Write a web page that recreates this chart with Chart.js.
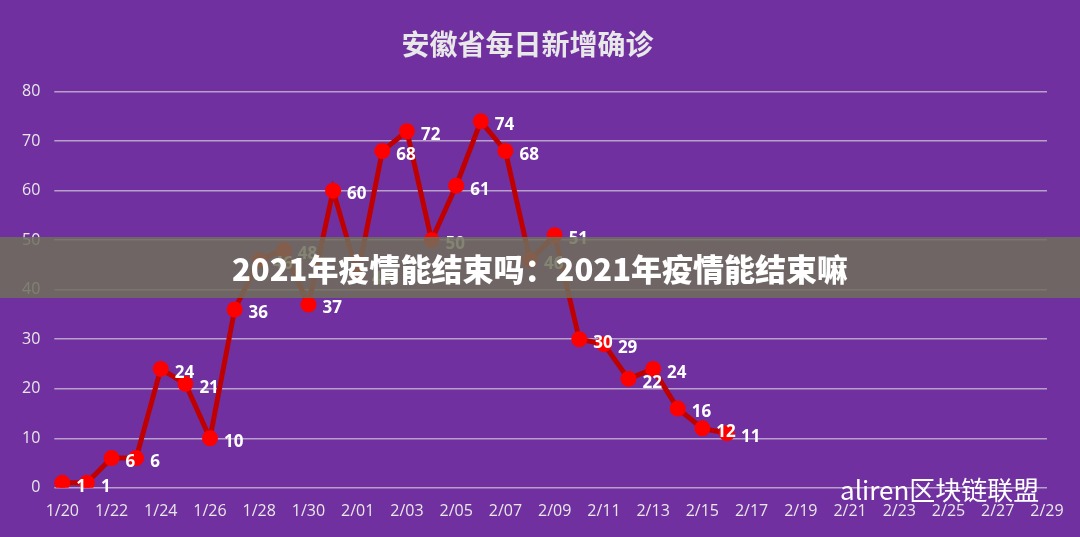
<!DOCTYPE html>
<html><head><meta charset="utf-8">
<script src="https://cdn.jsdelivr.net/npm/chart.js@4"></script>
<style>
html,body{margin:0;padding:0;background:#7030a0;}
#wrap{position:relative;width:1080px;height:537px;}
#banner{position:absolute;left:0;top:237px;width:1080px;height:61px;background:rgba(110,110,90,0.85);color:#fff;font:900 31px "Noto Sans CJK SC";line-height:61px;text-align:center;}
#wm{position:absolute;left:840px;top:470px;color:#fff;font:26px "Noto Sans CJK SC";}
</style></head><body>
<div id="wrap"><canvas id="c" width="1080" height="537"></canvas>
<div id="banner">2021年疫情能结束吗：2021年疫情能结束嘛</div>
<div id="wm">aliren区块链联盟</div></div>
<script>
const categories=['1/20','1/21','1/22','1/23','1/24','1/25','1/26','1/27','1/28','1/29','1/30','1/31',
'2/01','2/02','2/03','2/04','2/05','2/06','2/07','2/08','2/09','2/10','2/11','2/12','2/13','2/14','2/15',
'2/16','2/17','2/18','2/19','2/20','2/21','2/22','2/23','2/24','2/25','2/26','2/27','2/28','2/29'];
const values=[1,1,6,6,24,21,10,36,46,48,37,60,43,68,72,50,61,74,68,46,51,30,29,22,24,16,12,11];
const tickValues=[0,10,20,30,40,50,60,70,80];
const labelPlugin={id:'lbl',afterDatasetsDraw(ch){const ctx=ch.ctx;const meta=ch.getDatasetMeta(0);ctx.save();ctx.fillStyle='#fff';ctx.font='bold 17px "Open Sans"';ctx.textBaseline='middle';meta.data.forEach(function(p,i){ctx.fillText(String(values[i]),p.x+14,p.y+4);});ctx.restore();}};
new Chart(document.getElementById('c'),{type:'line',
data:{labels:categories,datasets:[{data:values,borderColor:'#c00000',borderWidth:5,pointBackgroundColor:'#ff0000',pointBorderColor:'#ff0000',pointRadius:5.5,tension:0}]},
options:{responsive:false,animation:false,layout:{padding:{left:8,right:33,top:10,bottom:10}},
plugins:{legend:{display:false},tooltip:{enabled:false},title:{display:true,text:'安徽省每日新增确诊',color:'#e8e8e8',font:{family:'Noto Sans CJK SC',size:28,weight:'bold'},padding:{top:18,bottom:30}}},
scales:{x:{offset:false,grid:{display:false},border:{display:false},ticks:{color:'#e8e8e8',font:{family:'Open Sans',size:16},autoSkip:false,maxRotation:0,padding:6,callback:function(v,i){return i%2===0?categories[i]:'';}}},
y:{min:0,max:80,afterBuildTicks:function(a){a.ticks=tickValues.map(function(v){return {value:v};});},grid:{color:'#b9a0cc',lineWidth:1.5},border:{display:false},ticks:{color:'#e8e8e8',font:{family:'Open Sans',size:16},padding:14}}}},
plugins:[labelPlugin]});
</script></body></html>
